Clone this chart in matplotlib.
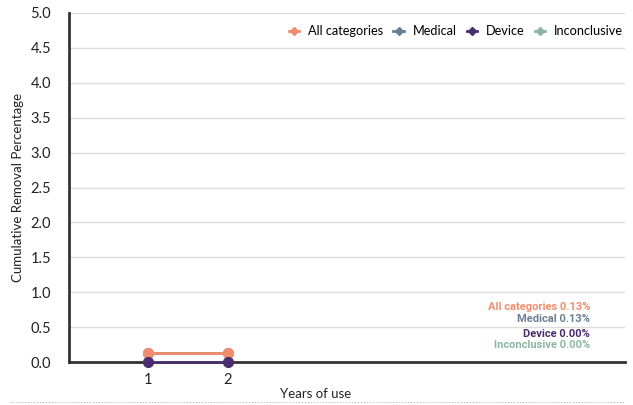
import matplotlib
matplotlib.use("Agg")
import matplotlib.pyplot as plt
from matplotlib.lines import Line2D

plt.rcParams['font.family'] = ['Lato', 'DejaVu Sans']

# Data
years = [1, 2]
series_names = ['All categories', 'Medical', 'Device', 'Inconclusive']
all_categories = [0.13, 0.13]
medical = [0.13, 0.13]
device = [0.0, 0.0]
inconclusive = [0.0, 0.0]
final_labels = ['0.13%', '0.13%', '0.00%', '0.00%']
colors = ['#F08D6E', '#6B7F93', '#4A2D6E', '#8DB5A6']

fig = plt.figure(figsize=(6.33, 4.05), dpi=100)
ax = fig.add_axes([0.109, 0.106, 0.878, 0.862])

# draw order: hidden series first
ax.plot(years, medical, color=colors[1], lw=2, marker='o', ms=7, zorder=3)
ax.plot(years, all_categories, color=colors[0], lw=2, marker='o', ms=7, zorder=4)
ax.plot(years, inconclusive, color=colors[3], lw=2, marker='o', ms=7, zorder=3)
ax.plot(years, device, color=colors[2], lw=2, marker='o', ms=7, zorder=5, clip_on=False)

ax.set_xlim(0, 7)
ax.set_ylim(0, 5)
ax.set_xticks(years)
ax.set_xticklabels([str(y) for y in years])
ax.set_yticks([i * 0.5 for i in range(11)])
ax.set_yticklabels(['%.1f' % (i * 0.5) for i in range(11)])
ax.tick_params(axis='both', length=0, labelsize=10.5, colors='#222222')
ax.tick_params(axis='y', pad=13)
ax.tick_params(axis='x', pad=8)
ax.grid(axis='y', color='#dddddd', lw=1)
ax.set_axisbelow(True)
for s in ['top', 'right']:
    ax.spines[s].set_visible(False)
for s in ['left', 'bottom']:
    ax.spines[s].set_color('#333333')
    ax.spines[s].set_linewidth(2)

fig.text(18 / 633, 1 - 187 / 405, 'Cumulative Removal Percentage', fontsize=9.5,
         rotation=90, ha='center', va='center', color='#222222')
fig.text(316 / 633, 1 - 394 / 405, 'Years of use', fontsize=9.5,
         ha='center', va='center', color='#222222')

# legend
handles = [Line2D([0], [0], color=c, lw=2, marker='D', ms=4.5) for c in colors]
fig.legend(handles, series_names, loc='center right',
           bbox_to_anchor=(623 / 633, 1 - 31 / 405), borderaxespad=0, borderpad=0,
           ncol=4, frameon=False, fontsize=9.2, handlelength=0.8,
           columnspacing=0.8, handletextpad=0.7)

# end labels
label_y = [307, 319, 334, 345]
for name, val, c, y in zip(series_names, final_labels, colors, label_y):
    fig.text(590 / 633, 1 - y / 405, name + ' ' + val, color=c, fontsize=8,
             fontweight='bold', family=['Roboto', 'DejaVu Sans'],
             ha='right', va='center')

# dotted rule at bottom
fig.add_artist(Line2D([10 / 633, 625 / 633], [1 - 402 / 405] * 2,
                      color='#bbbbbb', lw=0.8, ls=':'))

fig.savefig('out.png', dpi=100)
